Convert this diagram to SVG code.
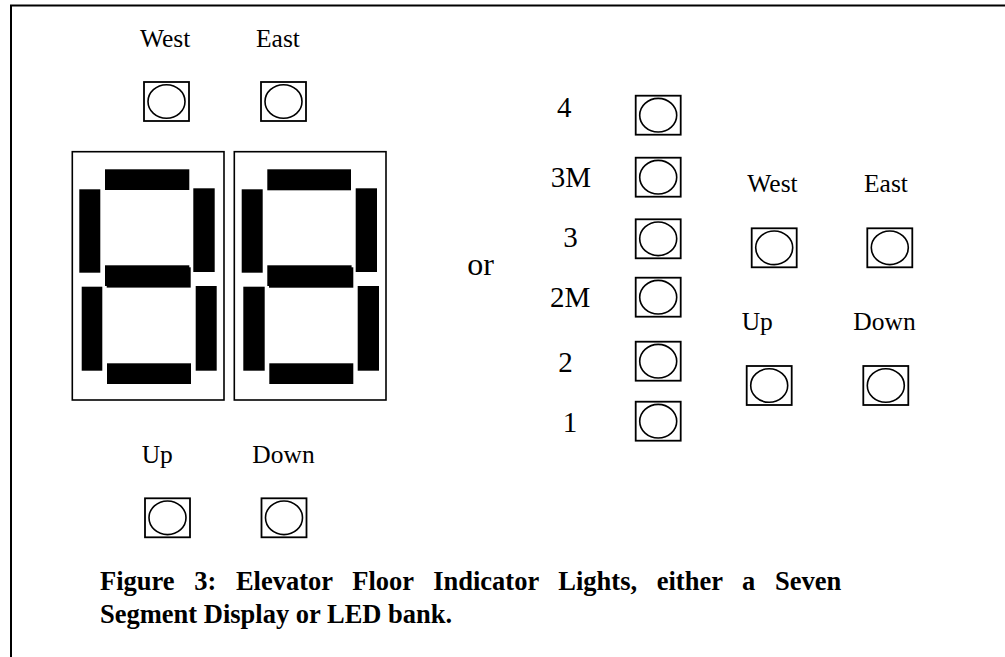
<svg xmlns="http://www.w3.org/2000/svg" width="1005" height="657" viewBox="0 0 1005 657">
<defs>
<style>
.t{font-family:"Liberation Serif","Times New Roman",serif;fill:#000}
.lbl{font-size:25.5px}
.num{font-size:29px}
.or{font-size:32px}
.cap{font-size:26.5px;font-weight:bold}
.frame{fill:none;stroke:#000;stroke-width:2}
.disp{fill:#fff;stroke:#000;stroke-width:1.6}
.seg{fill:#000}
.box{fill:#fff;stroke:#000;stroke-width:1.8}
.led{fill:#fff;stroke:#000;stroke-width:1.6}
</style>
<g id="ledsym">
<rect class="box" x="0" y="0" width="45" height="39"/>
<ellipse class="led" cx="22.5" cy="19.5" rx="18.5" ry="16.8"/>
</g>
</defs>
<rect x="0" y="0" width="1005" height="657" fill="#fff"/>
<g id="border">
<path class="frame" d="M1005 5.5 H11 V657"/>
</g>

<g id="top-west"><text class="t lbl" x="140" y="47">West</text><use href="#ledsym" x="144" y="82"/></g>
<g id="top-east"><text class="t lbl" x="256" y="47">East</text><use href="#ledsym" x="261" y="82"/></g>

<g id="seven-seg-left">
<rect class="disp" x="72.3" y="151.7" width="151.7" height="248.3"/>
<rect class="seg" x="105" y="169.3" width="84.3" height="20.7"/>
<rect class="seg" x="79.3" y="189.3" width="21" height="83.4"/>
<rect class="seg" x="193.3" y="188.3" width="21.4" height="83.7"/>
<rect class="seg" x="105" y="265.3" width="84.3" height="20.7"/>
<rect class="seg" x="106.7" y="267.3" width="84" height="20.3"/>
<rect class="seg" x="81.7" y="286.7" width="20.6" height="84"/>
<rect class="seg" x="195.7" y="286" width="21" height="84.7"/>
<rect class="seg" x="107" y="363.3" width="84" height="20.7"/>
</g>
<g id="seven-seg-right">
<rect class="disp" x="234.3" y="151.7" width="151.7" height="248.3"/>
<rect class="seg" x="267.3" y="169.3" width="83.7" height="21"/>
<rect class="seg" x="241.7" y="189.3" width="21" height="83.4"/>
<rect class="seg" x="355.7" y="188.3" width="21.3" height="83.7"/>
<rect class="seg" x="267.3" y="265.3" width="84.3" height="20.7"/>
<rect class="seg" x="269" y="267.3" width="84.3" height="20.4"/>
<rect class="seg" x="243.3" y="286.7" width="21.4" height="84"/>
<rect class="seg" x="357.7" y="286" width="21.3" height="84.7"/>
<rect class="seg" x="269.3" y="363.3" width="84" height="20.7"/>
</g>

<g id="bottom-up"><text class="t lbl" x="141.7" y="463.3">Up</text><use href="#ledsym" x="145" y="498.3"/></g>
<g id="bottom-down"><text class="t lbl" x="252.3" y="463.3">Down</text><use href="#ledsym" x="261.5" y="498.3"/></g>

<g id="or"><text class="t or" x="467.3" y="275">or</text></g>

<g id="floor-4"><text class="t num" x="557" y="116.7">4</text><use href="#ledsym" x="635.7" y="95.7"/></g>
<g id="floor-3M"><text class="t num" x="550.7" y="186.7">3M</text><use href="#ledsym" x="635.7" y="157.7"/></g>
<g id="floor-3"><text class="t num" x="563.3" y="246.7">3</text><use href="#ledsym" x="635.7" y="219.3"/></g>
<g id="floor-2M"><text class="t num" x="550" y="306.7">2M</text><use href="#ledsym" x="635.7" y="277.7"/></g>
<g id="floor-2"><text class="t num" x="558.3" y="371.7">2</text><use href="#ledsym" x="635.7" y="341.7"/></g>
<g id="floor-1"><text class="t num" x="562.7" y="431.7">1</text><use href="#ledsym" x="635.7" y="401.7"/></g>

<g id="right-west"><text class="t lbl" x="747.3" y="192.3">West</text><use href="#ledsym" x="751.7" y="228.3"/></g>
<g id="right-east"><text class="t lbl" x="864" y="192.3">East</text><use href="#ledsym" x="867.3" y="228.3"/></g>
<g id="right-up"><text class="t lbl" x="741.7" y="330">Up</text><use href="#ledsym" x="746.7" y="366"/></g>
<g id="right-down"><text class="t lbl" x="853.3" y="330">Down</text><use href="#ledsym" x="863.3" y="366"/></g>

<g id="caption">
<text class="t cap" x="100" y="590" word-spacing="13">Figure 3: Elevator Floor Indicator Lights, either a Seven</text>
<text class="t cap" x="100" y="623">Segment Display or LED bank.</text>
</g>
</svg>
